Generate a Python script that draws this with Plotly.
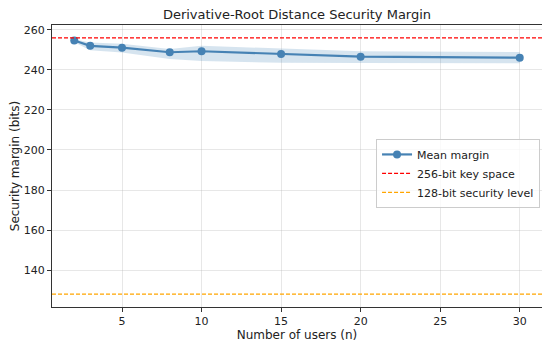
import plotly.graph_objects as go

users = [2, 3, 5, 8, 10, 15, 20, 30]
mean_margin = [254.7, 252.0, 251.1, 248.8, 249.3, 247.9, 246.6, 246.1]
band_upper = [255.3, 253.7, 253.0, 250.4, 252.0, 250.8, 249.3, 248.9]
band_lower = [253.8, 249.8, 248.7, 245.4, 244.4, 243.5, 243.4, 243.3]
key_space = 256
sec_level = 128

xticks = [5, 10, 15, 20, 25, 30]
yticks = [140, 160, 180, 200, 220, 240, 260]

blue = "#4682b4"
fig = go.Figure()
fig.add_trace(go.Scatter(x=users + users[::-1], y=band_upper + band_lower[::-1],
                         mode="lines", fill="toself", fillcolor="rgba(70,130,180,0.22)",
                         line=dict(width=0, color="rgba(0,0,0,0)"), hoverinfo="skip", showlegend=False))
fig.add_trace(go.Scatter(x=users, y=mean_margin, mode="lines+markers", name="Mean margin",
                         line=dict(color=blue, width=2.2), marker=dict(color=blue, size=8)))
fig.add_trace(go.Scatter(x=[0.6, 31.4], y=[key_space, key_space], mode="lines",
                         name="256-bit key space", line=dict(color="red", width=1.2, dash="4px,2px")))
fig.add_trace(go.Scatter(x=[0.6, 31.4], y=[sec_level, sec_level], mode="lines",
                         name="128-bit security level", line=dict(color="orange", width=1.2, dash="4px,2px")))

axis_common = dict(showline=True, linecolor="#333333", linewidth=1, mirror=True,
                   ticks="outside", ticklen=4, tickcolor="#333333", automargin=False,
                   showgrid=True, gridcolor="rgba(176,176,176,0.3)", gridwidth=1,
                   zeroline=False, tickfont=dict(size=11, color="#222222"))
# page body has an 8px margin: figure is 542x340 so it fits the 550x348 window
fig.update_layout(
    template="none",
    width=542, height=340,
    margin=dict(l=44, r=8, t=17, b=41),
    paper_bgcolor="white", plot_bgcolor="white",
    font=dict(family="DejaVu Sans", color="#222222"),
    title=dict(text="Derivative-Root Distance Security Margin", x=0.5, xanchor="center",
               xref="paper", y=0.994, yanchor="top", font=dict(size=13)),
    xaxis=dict(range=[0.6, 31.4], tickvals=xticks,
               title=dict(text="Number of users (n)", font=dict(size=12), standoff=2), **axis_common),
    yaxis=dict(range=[121.6, 262.4], tickvals=yticks,
               title=dict(text="Security margin (bits)", font=dict(size=12), standoff=4), **axis_common),
    legend=dict(x=0.996, y=0.596, xanchor="right", yanchor="top",
                bgcolor="rgba(255,255,255,0.8)", bordercolor="#cccccc", borderwidth=1,
                font=dict(size=11), tracegroupgap=0, itemwidth=30),
    showlegend=True,
)
fig.write_html("out.html")
